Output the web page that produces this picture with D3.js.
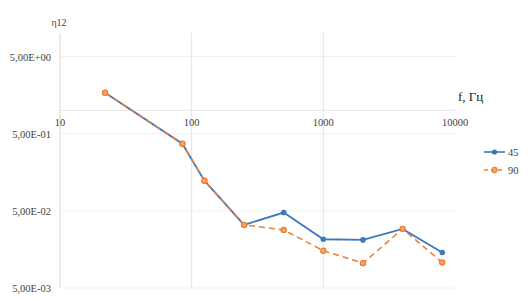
<!DOCTYPE html>
<html>
<head>
<meta charset="utf-8">
<script src="https://cdn.jsdelivr.net/npm/d3@7"></script>
<style>
  body { margin: 0; background: #fff; }
  svg text { font-family: "Times New Roman", Liberation Serif, Tinos, serif; }
</style>
</head>
<body>
<script>
// frequencies (Hz) and the two series
var freqs = [22, 85, 125, 250, 500, 1000, 2000, 4000, 8000];
var s45 = [1.70, 0.37, 0.123, 0.0329, 0.0475, 0.0214, 0.021, 0.0292, 0.0144];
var s90 = [1.70, 0.37, 0.123, 0.0329, 0.0283, 0.0152, 0.0105, 0.0292, 0.0107];
var seriesNames = ["45", "90"];
var xTicks = [10, 100, 1000, 10000];
var yTicks = [0.005, 0.05, 0.5, 5];
var yTickLabels = ["5,00E-03", "5,00E-02", "5,00E-01", "5,00E+00"];

var width = 532, height = 301;

var svg = d3.select("body").append("svg")
    .attr("width", width)
    .attr("height", height);

var x = d3.scaleLog().domain([10, 10000]).range([60, 455]);
var y = d3.scaleLog().domain([0.005, 5]).range([288, 56.5]);
var plotTop = 33;

// horizontal gridlines
svg.selectAll("line.hgrid")
    .data(yTicks)
    .enter().append("line")
    .attr("class", "hgrid")
    .attr("x1", x(10)).attr("x2", x(10000))
    .attr("y1", function(d) { return y(d); })
    .attr("y2", function(d) { return y(d); })
    .attr("stroke", "#f0f0f0")
    .attr("stroke-width", 1);

// vertical gridlines (10 is the y axis itself)
svg.selectAll("line.vgrid")
    .data(xTicks.slice(0, 3))
    .enter().append("line")
    .attr("class", "vgrid")
    .attr("x1", function(d) { return x(d); })
    .attr("x2", function(d) { return x(d); })
    .attr("y1", plotTop).attr("y2", y(0.005))
    .attr("stroke", "#e3e3e3")
    .attr("stroke-width", function(d) { return d === 10 ? 1.5 : 1; });

// x axis crosses at 1
svg.append("line")
    .attr("x1", x(10)).attr("x2", x(10000))
    .attr("y1", y(1)).attr("y2", y(1))
    .attr("stroke", "#e6e6e6")
    .attr("stroke-width", 1);

// x tick labels
svg.selectAll("text.xlab")
    .data(xTicks)
    .enter().append("text")
    .attr("class", "xlab")
    .attr("x", function(d) { return x(d); })
    .attr("y", y(1) + 16)
    .attr("text-anchor", "middle")
    .style("font-size", "10.5px")
    .style("fill", "#404040")
    .text(function(d) { return d; });

// y tick labels
svg.selectAll("text.ylab")
    .data(yTicks)
    .enter().append("text")
    .attr("class", "ylab")
    .attr("x", 51)
    .attr("y", function(d) { return y(d) + 4; })
    .attr("text-anchor", "end")
    .style("font-size", "10.5px")
    .style("fill", "#404040")
    .text(function(d, i) { return yTickLabels[i]; });

// axis titles
svg.append("text")
    .attr("x", 59).attr("y", 26)
    .attr("text-anchor", "middle")
    .style("font-size", "10px")
    .style("fill", "#404040")
    .text("η12");

svg.append("text")
    .attr("x", 458).attr("y", 101)
    .style("font-size", "13px")
    .style("fill", "#222")
    .text("f, Гц");

var line = d3.line()
    .x(function(d, i) { return x(freqs[i]); })
    .y(function(d) { return y(d); });

// series 45: solid blue
svg.append("path")
    .datum(s45)
    .attr("d", line)
    .attr("fill", "none")
    .attr("stroke", "#3f78b9")
    .attr("stroke-width", 1.8);

svg.selectAll("circle.m45")
    .data(s45)
    .enter().append("circle")
    .attr("class", "m45")
    .attr("cx", function(d, i) { return x(freqs[i]); })
    .attr("cy", function(d) { return y(d); })
    .attr("r", 2.8)
    .attr("fill", "#3f78b9");

// series 90: dashed orange
svg.append("path")
    .datum(s90)
    .attr("d", line)
    .attr("fill", "none")
    .attr("stroke", "#ed7d31")
    .attr("stroke-width", 1.5)
    .attr("stroke-dasharray", "6,4");

svg.selectAll("circle.m90")
    .data(s90)
    .enter().append("circle")
    .attr("class", "m90")
    .attr("cx", function(d, i) { return x(freqs[i]); })
    .attr("cy", function(d) { return y(d); })
    .attr("r", 2.6)
    .attr("fill", "#f4a66a")
    .attr("stroke", "#ed7d31")
    .attr("stroke-width", 1.2);

// legend
var legend = svg.selectAll("g.legend")
    .data(seriesNames)
    .enter().append("g")
    .attr("class", "legend")
    .attr("transform", function(d, i) { return "translate(484," + (152 + i * 18) + ")"; });

legend.append("line")
    .attr("x1", 0).attr("x2", 21)
    .attr("y1", 0).attr("y2", 0)
    .attr("stroke", function(d, i) { return i === 0 ? "#3f78b9" : "#ed7d31"; })
    .attr("stroke-width", 1.6)
    .attr("stroke-dasharray", function(d, i) { return i === 0 ? null : "4,3"; });

legend.append("circle")
    .attr("cx", 10.5).attr("cy", 0)
    .attr("r", 2.6)
    .attr("fill", function(d, i) { return i === 0 ? "#3f78b9" : "#f4a66a"; })
    .attr("stroke", function(d, i) { return i === 0 ? "none" : "#ed7d31"; })
    .attr("stroke-width", 1.2);

legend.append("text")
    .attr("x", 24).attr("y", 4)
    .style("font-size", "10.5px")
    .style("fill", "#404040")
    .text(function(d) { return d; });
</script>
</body>
</html>
